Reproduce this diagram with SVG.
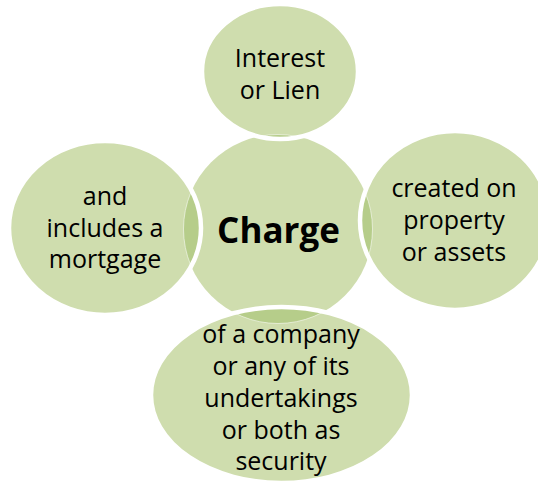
<svg xmlns="http://www.w3.org/2000/svg" width="538" height="482" viewBox="0 0 538 482">
  <defs>
    <style>
      .fill { fill: #cfddae; }
      .lens { fill: #b6cd8a; }
      .ring { fill: none; stroke: #ffffff; stroke-opacity: 0.55; stroke-width: 1; }
      .edge { fill: none; stroke: #ffffff; stroke-width: 4.5; }
      .lbl { font-family: "Open Sans", "DejaVu Sans", sans-serif; font-size: 25px; fill: #000000; text-anchor: middle; }
      .hub { font-family: "Open Sans", "DejaVu Sans", sans-serif; font-size: 35px; font-weight: bold; fill: #000000; text-anchor: middle; }
    </style>
    <clipPath id="cTop"><ellipse cx="280" cy="71.5" rx="78" ry="67.5"/></clipPath>
    <clipPath id="cLeft"><ellipse cx="105" cy="228" rx="96" ry="87"/></clipPath>
    <clipPath id="cRight"><ellipse cx="455" cy="220.5" rx="95" ry="89.5"/></clipPath>
    <clipPath id="cBottom"><ellipse cx="281.5" cy="395" rx="130.5" ry="88"/></clipPath>
  </defs>

  <g id="node-charge">
    <circle class="fill" cx="278" cy="229" r="94.5"/>
  </g>

  <g id="node-top">
    <ellipse class="fill" cx="280" cy="71.5" rx="78" ry="67.5"/>
    <circle class="lens" cx="278" cy="229" r="94.5" clip-path="url(#cTop)"/>
    <circle class="ring" cx="278" cy="229" r="94.5" clip-path="url(#cTop)"/>
    <ellipse class="edge" cx="280" cy="71.5" rx="78" ry="67.5"/>
    <text class="lbl" x="280" y="67">Interest</text>
    <text class="lbl" x="280" y="99">or Lien</text>
  </g>

  <g id="node-left">
    <ellipse class="fill" cx="105" cy="228" rx="96" ry="87"/>
    <circle class="lens" cx="278" cy="229" r="94.5" clip-path="url(#cLeft)"/>
    <circle class="ring" cx="278" cy="229" r="94.5" clip-path="url(#cLeft)"/>
    <ellipse class="edge" cx="105" cy="228" rx="96" ry="87"/>
    <text class="lbl" x="105" y="205">and</text>
    <text class="lbl" x="105" y="236.5">includes a</text>
    <text class="lbl" x="105" y="268">mortgage</text>
  </g>

  <g id="node-right">
    <ellipse class="fill" cx="455" cy="220.5" rx="95" ry="89.5"/>
    <circle class="lens" cx="278" cy="229" r="94.5" clip-path="url(#cRight)"/>
    <circle class="ring" cx="278" cy="229" r="94.5" clip-path="url(#cRight)"/>
    <ellipse class="edge" cx="455" cy="220.5" rx="95" ry="89.5"/>
    <text class="lbl" x="454" y="197">created on</text>
    <text class="lbl" x="454" y="229">property</text>
    <text class="lbl" x="454" y="261">or assets</text>
  </g>

  <g id="node-bottom">
    <ellipse class="fill" cx="281.5" cy="395" rx="130.5" ry="88"/>
    <circle class="lens" cx="278" cy="229" r="94.5" clip-path="url(#cBottom)"/>
    <circle class="ring" cx="278" cy="229" r="94.5" clip-path="url(#cBottom)"/>
    <ellipse class="edge" cx="281.5" cy="395" rx="130.5" ry="88"/>
    <text class="lbl" x="281" y="342.5">of a company</text>
    <text class="lbl" x="281" y="374.5">or any of its</text>
    <text class="lbl" x="281" y="406.5">undertakings</text>
    <text class="lbl" x="281" y="438.5">or both as</text>
    <text class="lbl" x="281" y="470">security</text>
  </g>

  <g id="hub-label">
    <text class="hub" x="278.5" y="243">Charge</text>
  </g>

  <g id="connectors"></g>
</svg>
